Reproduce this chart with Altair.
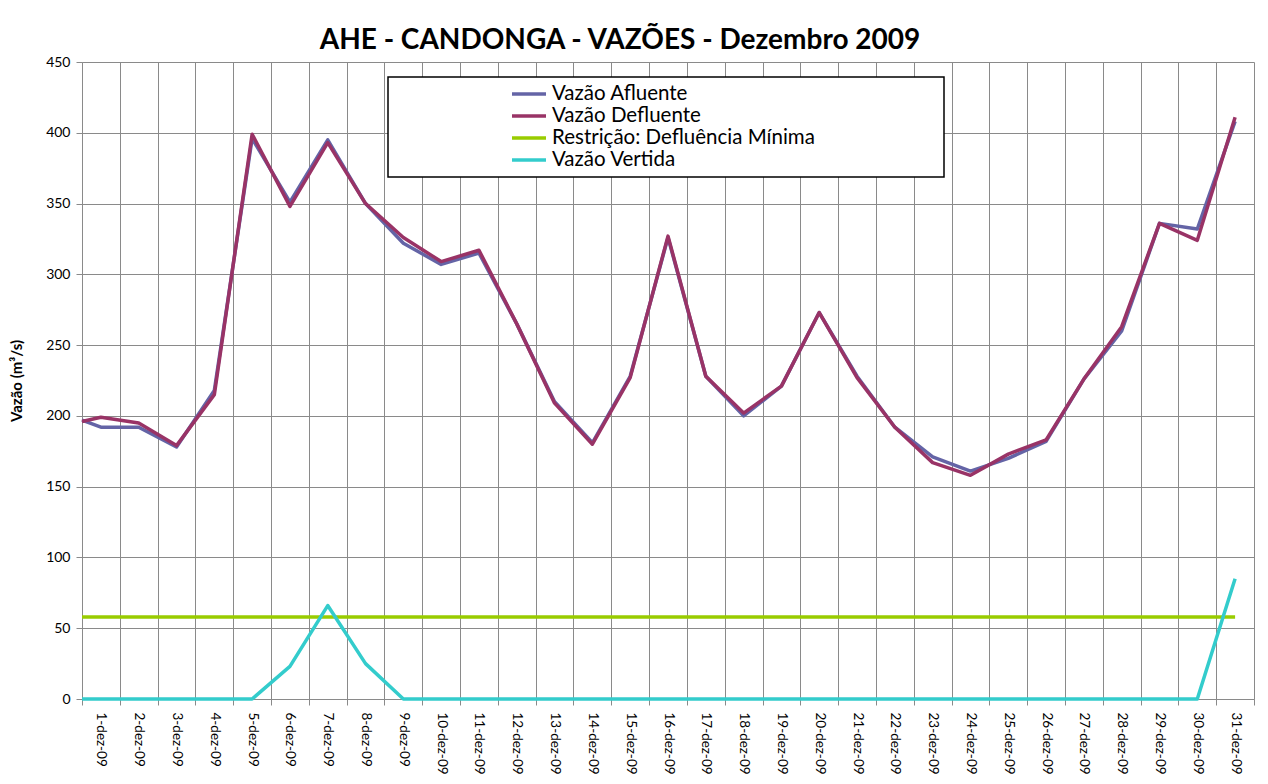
import json
import altair as alt
import pandas as pd

# ---- data ----
dias = [0.5, 1, 2, 3, 4, 5, 6, 7, 8, 9, 10, 11, 12, 13, 14, 15, 16,
        17, 18, 19, 20, 21, 22, 23, 24, 25, 26, 27, 28, 29, 30, 31]

rotulos = ["1-dez-09", "2-dez-09", "3-dez-09", "4-dez-09", "5-dez-09", "6-dez-09",
           "7-dez-09", "8-dez-09", "9-dez-09", "10-dez-09", "11-dez-09", "12-dez-09",
           "13-dez-09", "14-dez-09", "15-dez-09", "16-dez-09", "17-dez-09", "18-dez-09",
           "19-dez-09", "20-dez-09", "21-dez-09", "22-dez-09", "23-dez-09", "24-dez-09",
           "25-dez-09", "26-dez-09", "27-dez-09", "28-dez-09", "29-dez-09", "30-dez-09",
           "31-dez-09"]

afluente = [197, 192, 192, 178, 218, 396, 351, 395, 350, 322, 307, 315, 265, 210, 181, 228,
            326, 228, 200, 221, 273, 228, 192, 171, 161, 170, 182, 226, 260, 336, 332, 408]
defluente = [196, 199, 195, 179, 215, 399, 348, 393, 350, 326, 309, 317, 265, 209, 180, 227,
             327, 228, 202, 221, 273, 227, 192, 167, 158, 173, 183, 226, 263, 336, 324, 411]
restricao = [58, 58, 58, 58, 58, 58, 58, 58, 58, 58, 58, 58, 58, 58, 58, 58,
             58, 58, 58, 58, 58, 58, 58, 58, 58, 58, 58, 58, 58, 58, 58, 58]
vertida = [0, 0, 0, 0, 0, 0, 23, 66, 25, 0, 0, 0, 0, 0, 0, 0,
           0, 0, 0, 0, 0, 0, 0, 0, 0, 0, 0, 0, 0, 0, 0, 85]

series = ["Vazão Afluente", "Vazão Defluente", "Restrição: Defluência Mínima", "Vazão Vertida"]
cores = ["#6464A6", "#993366", "#99CC00", "#33CCCC"]

y_ticks = [0, 50, 100, 150, 200, 250, 300, 350, 400, 450]

# ---- table ----
rows = []
for nome, vals in zip(series, [afluente, defluente, restricao, vertida]):
    for d, v in zip(dias, vals):
        rows.append({"dia": d, "valor": v, "serie": nome})
df = pd.DataFrame(rows)

# x-axis: labels at day centres, grid/ticks at day boundaries
valores_x = sorted([i + 0.5 for i in range(0, 32)] + list(range(1, 32)))
arr = json.dumps([""] + rotulos, ensure_ascii=False)
label_expr = f"datum.value % 1 == 0 ? {arr}[datum.value] : ''"
boundary = {"condition": {"test": "datum.value % 1 != 0", "value": 1}, "value": 0}

GRID = "#8a8a8a"
FONT = "Lato"

# widen the legend box to the right (em spaces kept by a trailing zero-width char)
legend_pad = "\u2003" * 8 + "\u200b"

chart = alt.Chart(df).mark_line(strokeWidth=3.5, strokeJoin="round").encode(
    x=alt.X(
        "dia:Q",
        scale=alt.Scale(domain=[0.5, 31.5], nice=False, zero=False),
        axis=alt.Axis(
            values=valores_x,
            labelExpr=label_expr,
            labelAngle=90,
            title=None,
            grid=True,
            gridOpacity=boundary,
            tickOpacity=boundary,
            gridColor=GRID,
            tickColor=GRID,
            domainColor=GRID,
            tickSize=6,
            labelPadding=7,
            labelFontSize=13.5,
            labelColor="black",
            labelFont=FONT,
            labelOverlap=False,
        ),
    ),
    y=alt.Y(
        "valor:Q",
        scale=alt.Scale(domain=[0, 450], nice=False),
        axis=alt.Axis(
            values=y_ticks,
            title="Vazão (m³/s)",
            titleFontSize=15,
            titleFontWeight="bold",
            titleFont=FONT,
            titleColor="black",
            titleX=-58,
            gridColor=GRID,
            tickColor=GRID,
            domainColor=GRID,
            tickSize=6,
            labelPadding=6,
            labelFontSize=14,
            labelColor="black",
            labelFont=FONT,
        ),
    ),
    color=alt.Color(
        "serie:N",
        scale=alt.Scale(domain=series, range=cores),
        sort=series,
        title=None,
        legend=alt.Legend(
            orient="none",
            legendX=306,
            legendY=15,
            direction="vertical",
            symbolType="stroke",
            symbolSize=1156,
            symbolStrokeWidth=3.5,
            clipHeight=22,
            symbolOffset=116,
            labelOffset=4,
            labelFontSize=20.5,
            labelFont=FONT,
            labelColor="black",
            labelLimit=1000,
            labelExpr=f"datum.label + '{legend_pad}'",
            fillColor="white",
            strokeColor="black",
            padding=6,
            rowPadding=0,
        ),
    ),
).properties(
    width=1172,
    height=637,
    title=alt.TitleParams(
        "AHE - CANDONGA - VAZÕES - Dezembro 2009",
        fontSize=28,
        font=FONT,
        fontWeight="bold",
        color="black",
        anchor="middle",
        frame="group",
        dx=-48,
        offset=0,
    ),
    autosize=alt.AutoSizeParams(type="none"),
    padding={"left": 74, "top": 54, "right": 4, "bottom": 76},
).configure(
    font=FONT,
).configure_view(
    stroke="transparent",
).configure_legend(
    strokeWidth=1.5,
)

chart.save("out.html", embed_options={"renderer": "svg", "actions": False})
